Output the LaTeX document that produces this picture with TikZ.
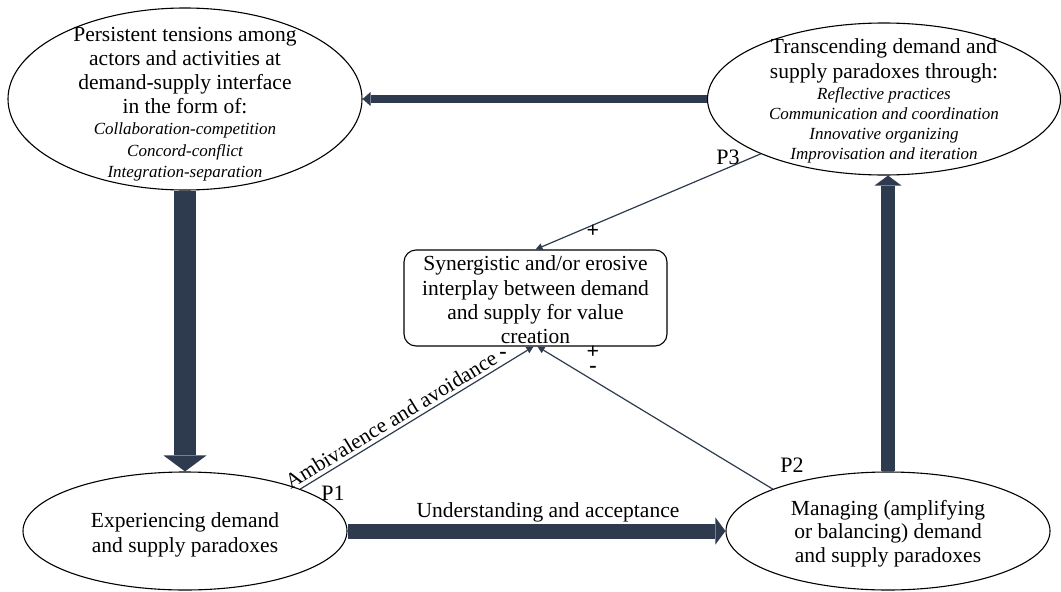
\documentclass[tikz,border=0pt]{standalone}
\usepackage{fontspec}
\setmainfont{Liberation Serif}
\usetikzlibrary{arrows.meta,shapes.geometric}
\definecolor{navy}{HTML}{2E3B4E}
\begin{document}
\begin{tikzpicture}[x=1pt,y=1pt,
  ell/.style={draw=black, line width=1.1pt, ellipse, inner sep=0pt},
  maintxt/.style={align=center, font=\fontsize{21.5}{24}\selectfont, inner sep=0pt},
  ittxt/.style={align=center, font=\fontsize{17}{21.5}\selectfont\itshape, inner sep=0pt},
  lbl/.style={font=\fontsize{22}{24}\selectfont, inner sep=0pt},
  sgn/.style={font=\fontsize{22}{24}\selectfont\bfseries, inner sep=0pt},
  thin/.style={draw=navy, line width=1.2pt, -{Triangle[width=7pt,length=7pt,line width=0pt]}},
  fat/.style={draw=navy, line cap=butt}
]
\fill[white] (0,0) rectangle (1061,-592);
\useasboundingbox (0,0) rectangle (1061,-592);

\node[ell, minimum width=354pt, minimum height=182pt] (tl) at (185,-99) {};
\node[ell, minimum width=353pt, minimum height=152pt] (tr) at (884,-99) {};
\node[ell, minimum width=324pt, minimum height=118pt] (bl) at (185,-531) {};
\node[ell, minimum width=324pt, minimum height=118pt] (br) at (888,-531) {};
\node[draw=black, rounded corners=12pt, line width=1.1pt, minimum width=263pt, minimum height=96pt, inner sep=0pt] (mid) at (535.5,-298) {};

\draw[fat, line width=8pt, -{Triangle[width=14pt,length=8pt,line width=0pt]}] (tr.west) -- (tl.east);
\draw[fat, line width=22pt, -{Triangle[width=43pt,length=16pt,line width=0pt]}] (tl.south) -- (bl.north);
\draw[fat, line width=15pt, -{Triangle[width=27pt,length=10pt,line width=0pt]}] (bl.east) -- (br.west);
\draw[fat, line width=14pt, -{Triangle[width=27pt,length=10pt,line width=0pt]}] (br.north) -- (br.north |- tr.south);

\draw[thin] (tr.204) -- (mid.north);
\draw[thin] (bl.20) -- ([xshift=-2pt]mid.south);
\draw[thin] (br.160) -- ([xshift=2pt]mid.south);

\node[maintxt] (tlt1) at (185,-71) {Persistent tensions among\\actors and activities at\\demand-supply interface\\in the form of:};
\node[ittxt] (tlt2) at (185,-152) {Collaboration-competition\\Concord-conflict\\Integration-separation};

\node[maintxt, font=\fontsize{21.5}{25}\selectfont] (trt1) at (884,-61) {Transcending demand and\\supply paradoxes through:};
\node[ittxt, font=\fontsize{17}{20}\selectfont\itshape] (trt2) at (884,-125) {Reflective practices\\Communication and coordination\\Innovative organizing\\Improvisation and iteration};

\node[maintxt, font=\fontsize{21.5}{24.3}\selectfont] (midt) at (535.5,-300) {Synergistic and/or erosive\\interplay between demand\\and supply for value\\creation};

\node[maintxt, font=\fontsize{21.5}{25}\selectfont] (blt) at (185,-534.5) {Experiencing demand\\and supply paradoxes};
\node[maintxt, font=\fontsize{21.5}{23.5}\selectfont] (brt) at (888,-533.5) {Managing (amplifying\\or balancing) demand\\and supply paradoxes};

\node[maintxt] (ua) at (548,-512) {Understanding and acceptance};
\node[maintxt, rotate=31.4] (amb) at (391,-420) {Ambivalence and avoidance};

\node[lbl] (p1) at (333,-493) {P1};
\node[lbl] (p2) at (792,-465) {P2};
\node[lbl] (p3) at (728,-157) {P3};

\node[sgn] (s1) at (593,-231) {+};
\node[sgn] (s2) at (503,-355) {-};
\node[sgn] (s3) at (593,-352) {+};
\node[sgn] (s4) at (593,-369) {-};
\end{tikzpicture}
\end{document}
